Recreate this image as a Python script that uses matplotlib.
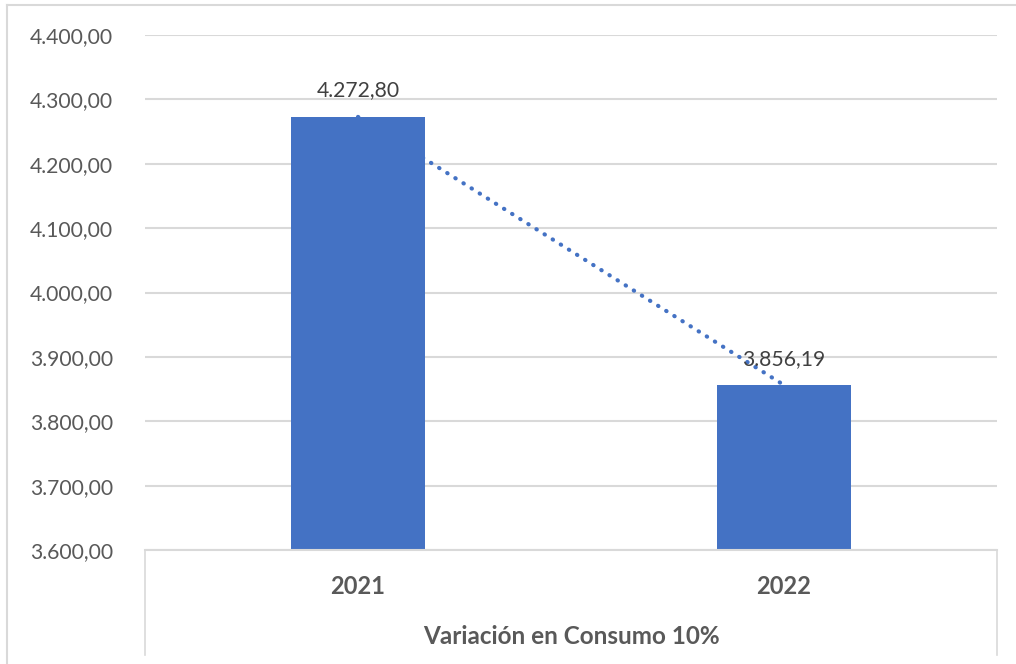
import matplotlib
matplotlib.use("Agg")
import matplotlib.pyplot as plt
from matplotlib.lines import Line2D
import numpy as np

categories = ["2021", "2022"]
values = [4272.80, 3856.19]
value_labels = ["4.272,80", "3.856,19"]
yticks = [3600, 3700, 3800, 3900, 4000, 4100, 4200, 4300, 4400]
ytick_labels = ["3.600,00", "3.700,00", "3.800,00", "3.900,00", "4.000,00",
                "4.100,00", "4.200,00", "4.300,00", "4.400,00"]
axis_title = "Variación en Consumo 10%"

plt.rcParams['font.family'] = ['Lato', 'DejaVu Sans']

W, H = 1016, 664
fig = plt.figure(figsize=(W / 100, H / 100), dpi=100)
L, R, T, B = 145, 997, 35, 550
ax = fig.add_axes([L / W, 1 - B / H, (R - L) / W, (B - T) / H])

x = np.arange(len(categories))
bar_color = "#4472C4"
ax.bar(x, values, width=0.315, color=bar_color, zorder=2)

# linear trendline
coef = np.polyfit(x, values, 1)
tx = np.array([x[0], x[-1]])
ax.plot(tx, np.polyval(coef, tx), linestyle=(0, (0.1, 2.2)), dash_capstyle="round",
        color=bar_color, linewidth=3, zorder=3)

for xi, v, lab in zip(x, values, value_labels):
    ax.annotate(lab, (xi, v), xytext=(0, 19), textcoords="offset points",
                ha="center", va="center", fontsize=15.2, color="#404040", zorder=4)

ax.set_xlim(-0.5, len(categories) - 0.5)
ax.set_ylim(3600, 4400)
ax.set_yticks(yticks)
ax.set_yticklabels(ytick_labels, fontsize=15.2, color="#595959")
ax.tick_params(axis="y", length=0, pad=83)
for lbl in ax.get_yticklabels():
    lbl.set_horizontalalignment("left")
ax.yaxis.grid(True, color="#D9D9D9", linewidth=1.5, zorder=0)
ax.set_axisbelow(True)
ax.set_xticks(x)
ax.set_xticklabels(categories, fontsize=17, fontweight="bold", color="#595959")
ax.tick_params(axis="x", length=0, pad=18)
for s in ["top", "left", "right"]:
    ax.spines[s].set_visible(False)
ax.spines["bottom"].set_color("#D9D9D9")
ax.spines["bottom"].set_linewidth(1.5)

fig.text((L + R) / 2 / W, 1 - 636 / H, axis_title, ha="center",
         va="center", fontsize=17.5, fontweight="bold", color="#595959")

# category box lines and outer border
def fy(p):
    return 1 - p / H
def fx(p):
    return p / W
lc = "#D9D9D9"
fig.add_artist(Line2D([fx(L), fx(L)], [fy(B), fy(655)], color=lc, linewidth=1.2))
fig.add_artist(Line2D([fx(R), fx(R)], [fy(B), fy(655)], color=lc, linewidth=1.2))
fig.add_artist(Line2D([fx(7), fx(7)], [fy(5), fy(664)], color=lc, linewidth=1.5))
fig.add_artist(Line2D([fx(7), fx(1016)], [fy(5), fy(5)], color=lc, linewidth=1.5))

fig.savefig("out.png", dpi=100)
